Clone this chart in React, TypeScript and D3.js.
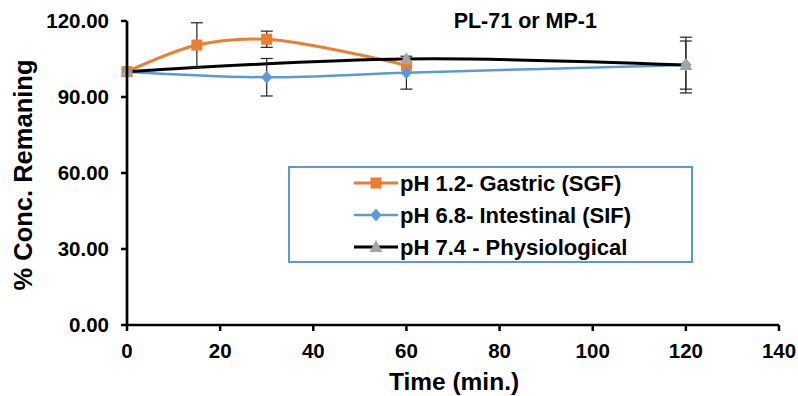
import React from "react";
import * as d3 from "d3";

const xTicks = [0, 20, 40, 60, 80, 100, 120, 140];
const yTicks = [0, 30, 60, 90, 120];

const sgfTime = [0, 15, 30, 60];
const sgfValue = [100, 110.5, 112.8, 102.5];
const sgfErr = [0, 8.8, 3.2, 0];

const sifTime = [0, 30, 60, 120];
const sifValue = [100, 97.8, 99.6, 102.6];
const sifErr = [0, 7.4, 6.5, 9.5];

const phyTime = [0, 60, 120];
const phyValue = [100, 105, 102.6];
const phyErr = [0, 0, 11];

const legendLabels = ["pH 1.2- Gastric (SGF)", "pH 6.8- Intestinal (SIF)", "pH 7.4 - Physiological"];

const W = 798, H = 396;
const L = 127, R = 779, T = 21, B = 325;
const font = "'Liberation Sans', Arial, sans-serif";

export default function App() {
  const x = d3.scaleLinear().domain([0, 140]).range([L, R]);
  const y = d3.scaleLinear().domain([0, 120]).range([B, T]);
  const line = d3.line<[number, number]>().x(d => x(d[0])).y(d => y(d[1])).curve(d3.curveCatmullRom.alpha(0.5));

  const series = [
    { t: sgfTime, v: sgfValue, e: sgfErr, color: "#ED7D31", marker: "square", w: 3 },
    { t: sifTime, v: sifValue, e: sifErr, color: "#5B9BD5", marker: "diamond", w: 2.5 },
    { t: phyTime, v: phyValue, e: phyErr, color: "#000000", marker: "triangle", w: 3 },
  ];

  const markerEl = (m: string, cx: number, cy: number, key: string) => {
    if (m === "square") return <rect key={key} x={cx - 5.5} y={cy - 5.5} width={11} height={11} fill="#ED7D31" />;
    if (m === "diamond") return <path key={key} d={`M${cx},${cy - 6.5}L${cx + 5.5},${cy}L${cx},${cy + 6.5}L${cx - 5.5},${cy}Z`} fill="#5B9BD5" />;
    return <path key={key} d={`M${cx},${cy - 7}L${cx + 6.5},${cy + 5}L${cx - 6.5},${cy + 5}Z`} fill="#A5A5A5" />;
  };

  return (
    <svg width={W} height={H} style={{ position: "absolute", left: 0, top: 0, background: "#fff" }}>
      {series.map((s, i) => (
        <path key={"l" + i} d={line(s.t.map((t, j) => [t, s.v[j]] as [number, number])) || ""} fill="none" stroke={s.color} strokeWidth={s.w} />
      ))}
      {series.map((s, i) => s.t.map((t, j) => s.e[j] > 0 ? (
        <g key={`e${i}-${j}`} stroke="#222" strokeWidth={1.2}>
          <line x1={x(t)} x2={x(t)} y1={y(s.v[j] + s.e[j])} y2={y(s.v[j] - s.e[j])} />
          <line x1={x(t) - 6} x2={x(t) + 6} y1={y(s.v[j] + s.e[j])} y2={y(s.v[j] + s.e[j])} />
          <line x1={x(t) - 6} x2={x(t) + 6} y1={y(s.v[j] - s.e[j])} y2={y(s.v[j] - s.e[j])} />
        </g>
      ) : null))}
      {series.map((s, i) => s.t.map((t, j) => markerEl(s.marker, x(t), y(s.v[j]), `m${i}-${j}`)))}
      <line x1={L} x2={L} y1={T} y2={B} stroke="#000" strokeWidth={2.7} />
      <line x1={L} x2={R} y1={B} y2={B} stroke="#000" strokeWidth={2.7} />
      {yTicks.map(v => (
        <g key={"yt" + v}>
          <line x1={L - 6} x2={L} y1={y(v)} y2={y(v)} stroke="#000" strokeWidth={2.5} />
          <text x={L - 18} y={y(v)} dy="0.36em" textAnchor="end" fontFamily={font} fontWeight="bold" fontSize={20.5}>{v.toFixed(2)}</text>
        </g>
      ))}
      {xTicks.map(v => (
        <g key={"xt" + v}>
          <line x1={x(v)} x2={x(v)} y1={B} y2={B + 6} stroke="#000" strokeWidth={2.5} />
          <text x={x(v)} y={358} textAnchor="middle" fontFamily={font} fontWeight="bold" fontSize={20.5}>{v}</text>
        </g>
      ))}
      <text x={454} y={390} textAnchor="middle" fontFamily={font} fontWeight="bold" fontSize={24.5}>Time (min.)</text>
      <text transform={`translate(32,175) rotate(-90)`} textAnchor="middle" fontFamily={font} fontWeight="bold" fontSize={25.5}>% Conc. Remaning</text>
      <text x={597} y={28} textAnchor="end" fontFamily={font} fontWeight="bold" fontSize={21.5}>PL-71 or MP-1</text>
      <rect x={289} y={167} width={403} height={95} fill="#fff" stroke="#5B9BD5" strokeWidth={2} />
      {legendLabels.map((lab, i) => {
        const ly = 183 + i * 32;
        const s = series[i];
        return (
          <g key={"lg" + i}>
            <line x1={354} x2={398} y1={ly} y2={ly} stroke={s.color} strokeWidth={s.w} />
            {markerEl(s.marker, 376, ly, "lm" + i)}
            <text x={400} y={ly} dy="0.36em" fontFamily={font} fontWeight="bold" fontSize={22}>{lab}</text>
          </g>
        );
      })}
    </svg>
  );
}
